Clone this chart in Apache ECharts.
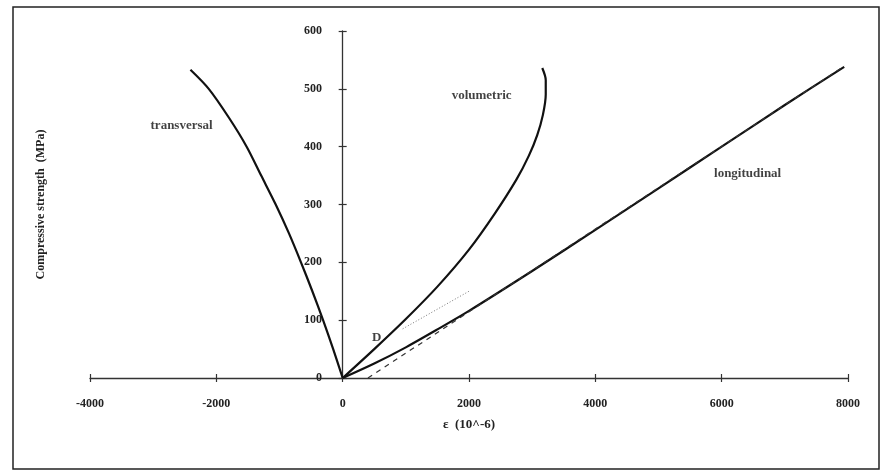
<!DOCTYPE html>
<html>
<head>
<meta charset="utf-8">
<script src="https://cdn.jsdelivr.net/npm/echarts@6/dist/echarts.min.js"></script>
<style>
html,body{margin:0;padding:0;background:#fff;}
#chart{width:883px;height:473px;}
</style>
</head>
<body>
<div id="chart"></div>
<script>
// ---- data (strain in 10^-6, stress in MPa) ----
const transversal = [[0,0],[-150,50],[-310,100],[-480,150],[-660,200],[-850,250],[-1060,300],[-1290,350],[-1520,400],[-1800,450],[-2120,500],[-2410,533]];
const volumetric = [[0,0],[500,50],[1000,102],[1500,158],[2000,222],[2400,283],[2750,343],[2950,385],[3080,420],[3170,455],[3215,490],[3215,515],[3160,536]];
const longitudinal = [[0,0],[500,25],[1000,53],[1500,84],[2000,116],[3000,185],[4000,256],[5000,328],[6000,400],[7000,472],[7940,538]];
const tangentDashed = [[400,0],[7950,540]];
const dottedRef = [[950,85],[2000,150]];
const curveLabels = [
  {name:'transversal', value:[-2550,437]},
  {name:'volumetric', value:[2200,489]},
  {name:'longitudinal', value:[6411,353]},
  {name:'D', value:[538,69]}
];
const xMin = -4000, xMax = 8000, xStep = 2000;
const yMin = 0, yMax = 600, yStep = 100;

const FONT = '"Liberation Serif", "DejaVu Serif", serif';
const chart = echarts.init(document.getElementById('chart'), null, {renderer:'canvas'});
const lineStyleBase = {color:'#111', width:2.2};
const plain = v => String(v);
const axisCommon = {
  type:'value',
  splitLine:{show:false},
};
chart.setOption({
  animation:false,
  backgroundColor:'#fff',
  grid:{left:90, right:35, top:31, bottom:95, containLabel:false, outerBoundsMode:'none'},
  graphic:[{
    type:'rect', shape:{x:13, y:7, width:866, height:462},
    style:{fill:'none', stroke:'#222', lineWidth:1.5}, silent:true, z:-1
  }],
  xAxis:[
    Object.assign({}, axisCommon, {
      min:xMin, max:xMax, interval:xStep, position:'bottom',
      axisLine:{onZero:true, lineStyle:{color:'#333', width:1.3}},
      axisTick:{show:true, length:4, inside:false, lineStyle:{color:'#333', width:1.2}},
      axisLabel:{margin:20, color:'#222', fontFamily:FONT, fontSize:12, fontWeight:'bold', formatter:plain},
      name:'\u03b5  (10^-6)', nameLocation:'middle', nameGap:40,
      nameTextStyle:{color:'#222', fontFamily:FONT, fontSize:13, fontWeight:'bold'}
    }),
    Object.assign({}, axisCommon, {
      min:xMin, max:xMax, interval:xStep, position:'top',
      axisLine:{show:false, onZero:true},
      axisTick:{show:true, length:4, inside:false, lineStyle:{color:'#333', width:1.2}},
      axisLabel:{show:false}
    })
  ],
  yAxis:[
    Object.assign({}, axisCommon, {
      min:yMin, max:yMax, interval:yStep, position:'left',
      axisLine:{show:true, onZero:true, lineStyle:{color:'#333', width:1.3}},
      axisTick:{show:true, length:4, inside:false, lineStyle:{color:'#333', width:1.2}},
      axisLabel:{margin:-232, color:'#222', fontFamily:FONT, fontSize:12, fontWeight:'bold', formatter:plain},
      name:'Compressive strength  (MPa)', nameLocation:'middle', nameGap:43, nameRotate:90,
      nameTextStyle:{color:'#222', fontFamily:FONT, fontSize:12, fontWeight:'bold'}
    }),
    Object.assign({}, axisCommon, {
      min:yMin, max:yMax, interval:yStep, position:'right',
      axisLine:{show:false, onZero:true},
      axisTick:{show:true, length:4, inside:false, lineStyle:{color:'#333', width:1.2}},
      axisLabel:{show:false}
    })
  ],
  series:[
    {type:'line', name:'transversal', data:transversal, smooth:0.3, showSymbol:false, lineStyle:lineStyleBase},
    {type:'line', name:'volumetric', data:volumetric, smooth:0.3, showSymbol:false, lineStyle:lineStyleBase},
    {type:'line', name:'longitudinal', data:longitudinal, smooth:0.3, showSymbol:false, lineStyle:lineStyleBase},
    {type:'line', name:'tangent', data:tangentDashed, showSymbol:false, lineStyle:{color:'#333', width:1.2, type:[5,5]}},
    {type:'line', name:'ref', data:dottedRef, showSymbol:false, lineStyle:{color:'#777', width:1, type:[1,2]}},
    {type:'scatter', data:curveLabels, symbolSize:0, silent:true,
      label:{show:true, position:'inside', formatter:'{b}', color:'#111', fontFamily:FONT, fontSize:13, fontWeight:'bold'}}
  ]
});
</script>
</body>
</html>
